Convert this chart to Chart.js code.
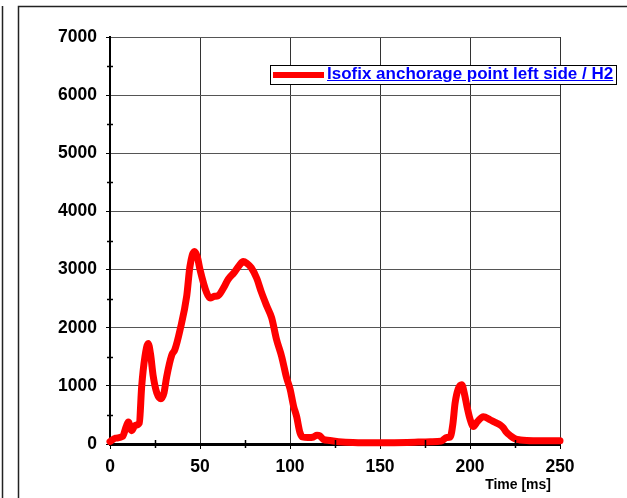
<!DOCTYPE html>
<html>
<head>
<meta charset="utf-8">
<script src="https://cdn.jsdelivr.net/npm/chart.js"></script>
<style>
    body { margin: 0; background: #fff; }
    #wrap { position: relative; width: 627px; height: 498px; }
    #legend {
        position: absolute; left: 270px; top: 65px; width: 345px; height: 18px;
        border: 1px solid #000; background: #fff;
        font: bold 17px "Liberation Sans", Arial, sans-serif; line-height: 18px;
        color: #0000ff; white-space: nowrap;
    }
    #legend .swatch {
        position: absolute; left: 2px; top: 6px; width: 51px; height: 6px; background: #ff0000;
    }
    #legend .label { position: absolute; left: 56px; top: -1px; text-decoration: underline; }
</style>
</head>
<body>
<div id="wrap">
    <canvas id="chart" width="627" height="498"></canvas>
    <div id="legend"><span class="swatch"></span><span class="label"></span></div>
</div>
<script>
var seriesLabel = 'Isofix anchorage point left side / H2';
var xTitle = 'Time [ms]';
var xTicks = [0, 50, 100, 150, 200, 250];
var yTicks = [0, 1000, 2000, 3000, 4000, 5000, 6000, 7000];

// time in ms
var timeMs = [0, 3, 7, 9, 10.2, 12, 14, 16.3, 17.6, 19.4, 21.2, 22.5, 24, 26, 28.3, 30, 31.5,
    34.3, 36, 38.9, 42.6, 44.4, 46.9, 48.5, 50, 53.7, 55.6, 58, 60, 63, 65.6, 69, 72, 74, 76,
    78.5, 81.5, 84, 87, 89.8, 92.5, 95.4, 98, 100, 102, 103.7, 105.5, 107, 110, 113, 115, 116.5,
    118.5, 122, 127, 135, 150, 165, 178, 184, 187, 189, 190.5, 191.7, 193.5, 195.4, 197, 198.3,
    200, 201.9, 204, 207.4, 211, 214, 216.7, 218.5, 220, 222.5, 225, 228, 231.5, 240, 250];

// force values
var force = [40, 100, 130, 300, 380, 230, 320, 360, 990, 1500, 1730, 1550, 1170, 880, 780, 880, 1160,
    1530, 1620, 1960, 2540, 3050, 3310, 3220, 3000, 2600, 2510, 2540, 2550, 2680, 2830, 2950, 3080, 3140, 3110,
    3030, 2850, 2620, 2380, 2170, 1800, 1500, 1150, 950, 650, 470, 200, 120, 110, 120, 150, 140,
    80, 60, 40, 25, 20, 25, 40, 50, 110, 120, 350, 700, 950, 1020, 850, 650,
    430, 300, 380, 470, 420, 370, 330, 280, 210, 140, 90, 70, 60, 55, 55];

var points = timeMs.map(function (t, i) { return { x: t, y: force[i] }; });

document.querySelector('#legend .label').textContent = seriesLabel;

var fontFamily = '"Liberation Sans", Arial, sans-serif';

var framePlugin = {
    id: 'frame',
    beforeDraw: function (chart) {
        var c = chart.ctx;
        c.save();
        c.fillStyle = '#fff';
        c.fillRect(0, 0, chart.width, chart.height);
        c.strokeStyle = '#222';
        c.lineWidth = 1.5;
        c.beginPath();
        c.moveTo(2.5, 6); c.lineTo(2.5, 498);
        c.moveTo(18.5, 498); c.lineTo(18.5, 6.5); c.lineTo(627, 6.5);
        c.stroke();
        c.restore();
    },
    afterDraw: function (chart) {
        var c = chart.ctx;
        var xs = chart.scales.x, ys = chart.scales.y;
        c.save();
        c.strokeStyle = '#000';
        c.lineWidth = 1.5;
        c.beginPath();
        // minor ticks
        for (var v = 500; v < 7000; v += 1000) {
            var py = Math.round(ys.getPixelForValue(v)) + 0.5;
            c.moveTo(xs.left - 3, py); c.lineTo(xs.left + 3, py);
        }
        for (var t = 25; t < 250; t += 50) {
            var px = Math.round(xs.getPixelForValue(t)) + 0.5;
            c.moveTo(px, ys.bottom - 4); c.lineTo(px, ys.bottom + 4);
        }
        c.stroke();
        c.fillStyle = '#000';
        c.font = 'bold 14px ' + fontFamily;
        c.textAlign = 'right';
        c.textBaseline = 'alphabetic';
        c.fillText(xTitle, 551, 489);
        c.restore();
    }
};

var ctx = document.getElementById('chart').getContext('2d');

new Chart(ctx, {
    type: 'line',
    data: {
        datasets: [{
            label: seriesLabel,
            data: points,
            borderColor: '#ff0000',
            borderWidth: 7,
            borderCapStyle: 'round',
            borderJoinStyle: 'round',
            pointRadius: 0,
            cubicInterpolationMode: 'monotone',
            clip: false
        }]
    },
    options: {
        responsive: false,
        animation: false,
        layout: { padding: { left: 0, top: 37, right: 67, bottom: 0 } },
        plugins: { legend: { display: false }, tooltip: { enabled: false } },
        scales: {
            x: {
                type: 'linear',
                min: 0, max: 250,
                afterFit: function (s) { s.height = 54; },
                afterBuildTicks: function (s) { s.ticks = xTicks.map(function (v) { return { value: v }; }); },
                grid: { color: '#333', lineWidth: 1, tickLength: 5, tickColor: '#000' },
                border: { color: '#000', width: 3 },
                ticks: {
                    padding: 8, color: '#000', autoSkip: false, maxRotation: 0,
                    callback: function (v) { return String(v); },
                    font: { family: fontFamily, size: 17.5, weight: 'bold' }
                }
            },
            y: {
                min: 0, max: 7000,
                afterFit: function (s) { s.width = 110; },
                afterBuildTicks: function (s) { s.ticks = yTicks.map(function (v) { return { value: v }; }); },
                grid: { color: '#555', lineWidth: 1, tickLength: 4, tickColor: '#000' },
                border: { color: '#000', width: 2 },
                ticks: {
                    padding: 9, color: '#000',
                    callback: function (v) { return String(v); },
                    font: { family: fontFamily, size: 17.5, weight: 'bold' }
                }
            }
        }
    },
    plugins: [framePlugin]
});
</script>
</body>
</html>
